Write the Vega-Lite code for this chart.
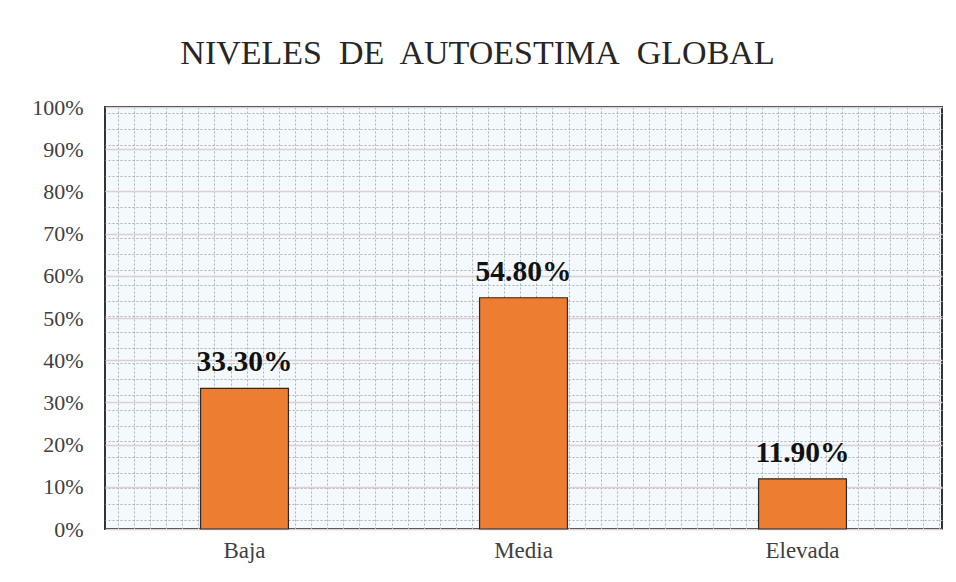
{
  "$schema": "https://vega.github.io/schema/vega-lite/v6.json",
  "autosize": {"type": "none"},
  "width": 837,
  "height": 422,
  "padding": {"left": 105, "top": 107, "right": 14, "bottom": 53},
  "background": "white",
  "title": {
    "text": "NIVELES\u00a0 DE\u00a0 AUTOESTIMA\u00a0 GLOBAL",
    "font": "Liberation Serif",
    "fontSize": 34,
    "fontWeight": "normal",
    "color": "#262626",
    "anchor": "middle",
    "baseline": "alphabetic",
    "offset": -2,
    "dx": -46
  },
  "data": {
    "values": [
      {"nivel": "Baja", "pct": 0.333},
      {"nivel": "Media", "pct": 0.548},
      {"nivel": "Elevada", "pct": 0.119}
    ]
  },
  "config": {
    "view": {"stroke": "#333333", "strokeWidth": 2, "fill": "#f3f9fc"},
    "axis": {"labelFont": "Liberation Serif", "titleFont": "Liberation Serif"}
  },
  "layer": [
    {
      "mark": {"type": "point", "opacity": 0},
      "encoding": {
        "x": {
          "datum": 1,
          "type": "quantitative",
          "scale": {"domain": [0, 52], "nice": false, "zero": false},
          "axis": {
            "orient": "top",
            "grid": true,
            "gridColor": "#a9b3b8",
            "gridDash": [2, 2],
            "gridWidth": 1,
            "labels": false,
            "ticks": false,
            "domain": false,
            "title": null,
            "minExtent": 0,
            "maxExtent": 0,
            "values": [0.8,1.8,2.8,3.8,4.8,5.8,6.8,7.8,8.8,9.8,10.8,11.8,12.8,13.8,14.8,15.8,16.8,17.8,18.8,19.8,20.8,21.8,22.8,23.8,24.8,25.8,26.8,27.8,28.8,29.8,30.8,31.8,32.8,33.8,34.8,35.8,36.8,37.8,38.8,39.8,40.8,41.8,42.8,43.8,44.8,45.8,46.8,47.8,48.8,49.8,50.8,51.8]
          }
        },
        "y": {
          "datum": 1,
          "type": "quantitative",
          "scale": {"domain": [0, 27], "nice": false, "zero": false},
          "axis": {
            "orient": "right",
            "grid": true,
            "gridColor": "#a9b3b8",
            "gridDash": [2, 2],
            "gridWidth": 1,
            "labels": false,
            "ticks": false,
            "domain": false,
            "title": null,
            "minExtent": 0,
            "maxExtent": 0,
            "values": [0.6,1.6,2.6,3.6,4.6,5.6,6.6,7.6,8.6,9.6,10.6,11.6,12.6,13.6,14.6,15.6,16.6,17.6,18.6,19.6,20.6,21.6,22.6,23.6,24.6,25.6,26.6]
          }
        }
      }
    },
    {
      "encoding": {
        "x": {
          "field": "nivel",
          "type": "nominal",
          "sort": ["Baja", "Media", "Elevada"],
          "scale": {"paddingInner": 0, "paddingOuter": 0},
          "axis": {
            "orient": "bottom",
            "title": null,
            "labelAngle": 0,
            "labelFontSize": 23,
            "labelColor": "#404040",
            "labelPadding": 10,
            "ticks": false,
            "domain": false,
            "grid": false
          }
        },
        "y": {
          "field": "pct",
          "type": "quantitative",
          "scale": {"domain": [0, 1], "nice": false},
          "axis": {
            "orient": "left",
            "title": null,
            "format": ".0%",
            "values": [0, 0.1, 0.2, 0.3, 0.4, 0.5, 0.6, 0.7, 0.8, 0.9, 1],
            "labelFontSize": 22,
            "labelColor": "#404040",
            "labelPadding": 22,
            "ticks": false,
            "domain": false,
            "grid": true,
            "gridColor": "#ddd0d2",
            "gridWidth": 1.5
          }
        }
      },
      "layer": [
        {
          "mark": {"type": "bar", "width": {"band": 0.315}, "color": "#ED7D31", "stroke": "#2a2a2a", "strokeWidth": 1.2}
        },
        {
          "mark": {
            "type": "text",
            "font": "Liberation Serif",
            "fontSize": 29.5,
            "fontWeight": "bold",
            "color": "#111111",
            "baseline": "alphabetic",
            "dy": -17
          },
          "encoding": {"text": {"field": "pct", "type": "quantitative", "format": ".2%"}}
        }
      ]
    }
  ],
  "resolve": {"scale": {"x": "independent", "y": "independent"}, "axis": {"x": "independent", "y": "independent"}}
}
